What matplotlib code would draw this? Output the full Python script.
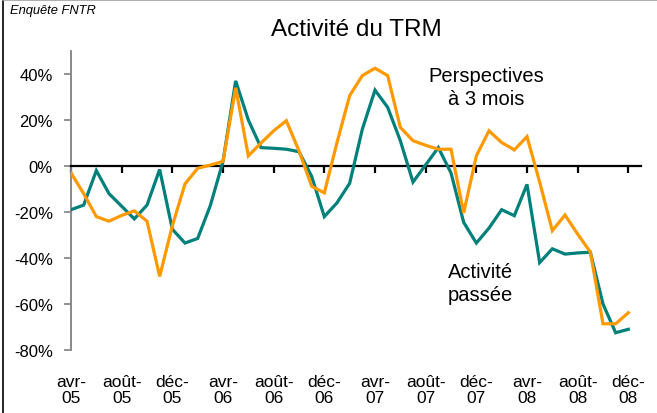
import matplotlib
matplotlib.use('Agg')
import matplotlib.pyplot as plt
from matplotlib.lines import Line2D

plt.rcParams['font.family'] = ['Liberation Sans', 'DejaVu Sans']

# months avr-05 .. déc-08
month_names = ['avr', 'mai', 'juin', 'juil', 'août', 'sept', 'oct', 'nov',
               'déc', 'janv', 'févr', 'mars']

activite = [-19, -17, -2, -12, -17.5, -23, -17, -1.5, -27.5, -33.5,
            -31.5, -17.2, 2, 37, 20, 8, 7.7, 7.3, 6.2, -4.5,
            -22, -16, -7.5, 16, 33, 25.5, 11, -7, 0.5, 8,
            -3, -24.5, -33.5, -27, -19, -21.6, -8, -42, -36, -38.3,
            -37.8, -37.5, -60, -72.5, -71]

perspectives = [-3, -12, -22, -24, -21.5, -19.5, -24, -48, -26, -7.8,
                -1, 0.4, 2, 34, 4.4, 10, 15.3, 19.7, 6.6, -8.8,
                -11.7, 10.2, 30.6, 39.3, 42.5, 39.3, 16.8, 11, 9, 7.3,
                7.3, -20.4, 4.4, 15.3, 10.2, 7, 12.8, -7, -28.1, -21.3,
                -29.6, -37.4, -68.6, -68.6, -63.8]

y_ticks = [-80, -60, -40, -20, 0, 20, 40]

labels = []
for i in range(len(activite)):
    m = month_names[i % 12]
    yr = 5 + (i + 3) // 12
    labels.append(f"{m}-\n{yr:02d}")

x = list(range(len(activite)))
tick_pos = x[::4]
tick_lab = labels[::4]

fig = plt.figure(figsize=(6.57, 4.14), dpi=100)
ax = fig.add_axes([71 / 657, 1 - 351 / 414, (641 - 71) / 657, (351 - 52) / 414])

teal = '#00807a'
orange = '#ff9900'
ax.plot(x, activite, color=teal, lw=2.3, solid_joinstyle='miter', zorder=3)
ax.plot(x, perspectives, color=orange, lw=2.3, solid_joinstyle='miter', zorder=4)

ax.set_xlim(0, 45)
ax.set_ylim(-80, 50)

for s in ['top', 'right']:
    ax.spines[s].set_visible(False)
ax.spines['left'].set_color('#808080')
ax.spines['left'].set_linewidth(1.3)
ax.spines['bottom'].set_position(('data', 0))
ax.spines['bottom'].set_color('black')
ax.spines['bottom'].set_linewidth(1.6)

ax.set_yticks(y_ticks)
ax.set_yticklabels([f"{v}%" for v in y_ticks])
ax.tick_params(axis='y', direction='out', length=5, width=1.2, color='#808080',
               labelsize=12, pad=8)
ax.set_xticks(tick_pos)
ax.tick_params(axis='x', direction='out', length=5, width=1.6, color='black',
               labelbottom=False)

sec = ax.secondary_xaxis('bottom')
sec.set_xticks(tick_pos, tick_lab)
sec.tick_params(length=0, pad=17, labelsize=12.5)
sec.spines['bottom'].set_visible(False)
for t in sec.get_xticklabels():
    t.set_linespacing(1.15)

ax.text(32.8, 34.3, 'Perspectives\nà 3 mois', ha='center', va='center',
        fontsize=14.5, linespacing=1.3)
ax.text(32.3, -50.9, 'Activité\npassée', ha='center', va='center',
        fontsize=14.5, linespacing=1.3)

fig.text(356 / 657, 1 - 30 / 414, 'Activité du TRM', ha='center', va='center',
         fontsize=17.5)
fig.text(10 / 657, 1 - 5 / 414, 'Enquête FNTR', ha='left', va='top',
         fontsize=9.3, style='italic')

fig.add_artist(Line2D([0.004, 0.004], [0, 0.997], transform=fig.transFigure,
                      color='black', lw=1.2))
fig.add_artist(Line2D([0.004, 1], [0.997, 0.997], transform=fig.transFigure,
                      color='#a0a0a0', lw=1.2))

fig.savefig('out.png', dpi=100)
